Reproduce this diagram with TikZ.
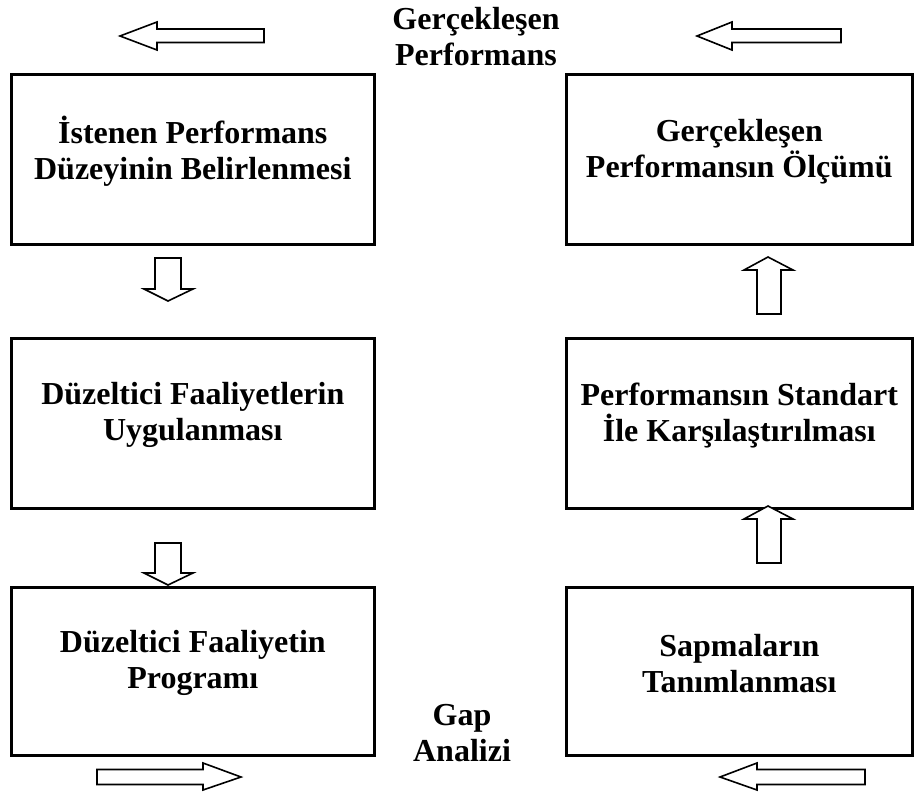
\documentclass[tikz,border=0pt]{standalone}
\usepackage{fontspec}
\setmainfont{Liberation Serif}
\begin{document}
\begin{tikzpicture}[x=1pt,y=-1pt,
  stage/.style={draw,line width=2.6pt,minimum width=363pt,minimum height=170pt,
    anchor=north west,inner sep=0pt},
  stagetext/.style={align=center,font=\fontsize{32}{36}\selectfont\bfseries},
  hollow/.style={draw,fill=white,line width=1.6pt,line join=miter}]
\useasboundingbox (0,0) rectangle (924,792);

% Left column of stages
\node[stage] (b1) at (10,73) {};
\node[stage] (b2) at (10,337) {};
\node[stage,minimum height=168pt] (b3) at (10,586) {};
% Right column of stages
\node[stage,minimum width=346pt] (b4) at (565,73) {};
\node[stage,minimum width=346pt] (b5) at (565,337) {};
\node[stage,minimum width=346pt,minimum height=168pt] (b6) at (565,586) {};

% Stage captions
\node[stagetext] (t1) at ([yshift=8pt]b1.center) {İstenen Performans\\Düzeyinin Belirlenmesi};
\node[stagetext] (t2) at ([yshift=8pt]b2.center) {Düzeltici Faaliyetlerin\\Uygulanması};
\node[stagetext] (t3) at ([yshift=8pt]b3.center) {Düzeltici Faaliyetin\\Programı};
\node[stagetext] (t4) at ([yshift=8pt]b4.center) {Gerçekleşen\\Performansın Ölçümü};
\node[stagetext] (t5) at ([yshift=8pt]b5.center) {Performansın Standart\\İle Karşılaştırılması};
\node[stagetext] (t6) at ([yshift=8pt]b6.center) {Sapmaların\\Tanımlanması};

% Free labels
\node[stagetext] (lt) at (476,37) {Gerçekleşen\\Performans};
\node[stagetext] (lb) at (462,733) {Gap\\Analizi};

% Horizontal block arrows, top row (pointing left)
\draw[hollow] (120,36) -- (157,22) -- (157,29) -- (264,29) -- (264,42.5) -- (157,42.5) -- (157,50) -- cycle;
\draw[hollow] (697,36) -- (732,22) -- (732,29) -- (841,29) -- (841,42.5) -- (732,42.5) -- (732,50) -- cycle;

% Horizontal block arrows, bottom row
\draw[hollow] (241,777) -- (203,763) -- (203,769.5) -- (97,769.5) -- (97,784.5) -- (203,784.5) -- (203,790) -- cycle;
\draw[hollow] (720,777) -- (757,763) -- (757,769.5) -- (865,769.5) -- (865,784.5) -- (757,784.5) -- (757,790) -- cycle;

% Downward block arrows, left column
\draw[hollow] (168,301) -- (144,289) -- (155,289) -- (155,258) -- (181,258) -- (181,289) -- (193,289) -- cycle;
\draw[hollow] (168,585) -- (144,573) -- (155,573) -- (155,543) -- (181,543) -- (181,573) -- (193,573) -- cycle;

% Upward block arrows, right column
\draw[hollow] (768,257) -- (744,270) -- (757,270) -- (757,314) -- (781,314) -- (781,270) -- (793,270) -- cycle;
\draw[hollow] (768,506) -- (744,519) -- (757,519) -- (757,563) -- (781,563) -- (781,519) -- (793,519) -- cycle;
\end{tikzpicture}
\end{document}
